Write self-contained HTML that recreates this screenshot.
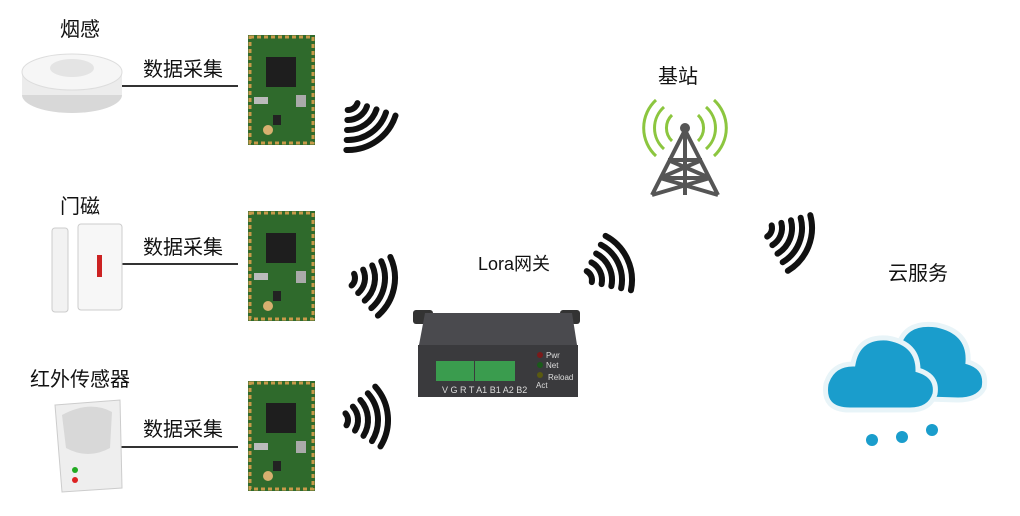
<!DOCTYPE html>
<html><head><meta charset="utf-8"><style>
body{margin:0;background:#fff;width:1020px;height:516px;overflow:hidden;font-family:"Liberation Sans","Noto Sans CJK SC",sans-serif}
svg{display:block}
text{font-family:"Liberation Sans","Noto Sans CJK SC",sans-serif;fill:#111}
</style></head><body>
<svg width="1020" height="516" viewBox="0 0 1020 516">
<defs>
<g id="wave" fill="none" stroke="#111" stroke-width="6" stroke-linecap="round">
<path d="M8,-6 A10 10 0 0 1 8,6"/>
<path d="M16,-12 A20 20 0 0 1 16,12"/>
<path d="M24,-18 A30 30 0 0 1 24,18"/>
<path d="M32,-24 A40 40 0 0 1 32,24"/>
<path d="M40,-30 A50 50 0 0 1 40,30"/>
</g>
<g id="pcb">
<rect x="0" y="0" width="67" height="110" fill="#2f6a2c"/>
<rect x="2" y="2" width="63" height="106" fill="none" stroke="#c89a4a" stroke-width="3" stroke-dasharray="4 3"/>
<rect x="18" y="22" width="30" height="30" fill="#1e1e1e"/>
<rect x="6" y="62" width="14" height="7" fill="#bbb"/>
<rect x="48" y="60" width="10" height="12" fill="#aaa"/>
<circle cx="20" cy="95" r="5" fill="#d8b070"/>
<rect x="25" y="80" width="8" height="10" fill="#222"/>
</g>
</defs>

<text x="60" y="36" font-size="20">烟感</text>
<text x="60" y="213" font-size="20">门磁</text>
<text x="30" y="386" font-size="20">红外传感器</text>
<text x="143" y="76" font-size="20">数据采集</text>
<text x="143" y="254" font-size="20">数据采集</text>
<text x="143" y="436" font-size="20">数据采集</text>
<text x="478" y="270" font-size="18">Lora网关</text>
<text x="658" y="83" font-size="20">基站</text>
<text x="888" y="280" font-size="20">云服务</text>

<line x1="110" y1="86" x2="238" y2="86" stroke="#333" stroke-width="2"/>
<line x1="120" y1="264" x2="238" y2="264" stroke="#333" stroke-width="2"/>
<line x1="120" y1="447" x2="238" y2="447" stroke="#333" stroke-width="2"/>

<ellipse cx="72" cy="95" rx="50" ry="18" fill="#d8d8d8"/>
<rect x="22" y="72" width="100" height="23" fill="#ececec"/>
<ellipse cx="72" cy="72" rx="50" ry="18" fill="#f6f6f6" stroke="#ddd"/>
<ellipse cx="72" cy="68" rx="22" ry="9" fill="#e4e4e4"/>

<rect x="52" y="228" width="16" height="84" rx="3" fill="#f2f2f2" stroke="#ccc"/>
<rect x="78" y="224" width="44" height="86" rx="3" fill="#f7f7f7" stroke="#ccc"/>
<rect x="97" y="255" width="5" height="22" fill="#cc2222"/>

<path d="M55,405 L120,400 L122,488 L62,492 Z" fill="#eee" stroke="#ccc"/>
<path d="M62,415 Q90,400 112,412 L110,448 Q88,460 66,448 Z" fill="#d8d8d8"/>
<circle cx="75" cy="470" r="3" fill="#2a2"/><circle cx="75" cy="480" r="3" fill="#d22"/>

<use href="#pcb" x="248" y="35"/>
<use href="#pcb" x="248" y="211"/>
<use href="#pcb" x="248" y="381"/>

<use href="#wave" transform="translate(348,100) rotate(55)"/>
<use href="#wave" transform="translate(345,278) rotate(12)"/>
<use href="#wave" transform="translate(338,420) rotate(-5)"/>
<use href="#wave" transform="translate(582,280) rotate(-25)"/>
<use href="#wave" transform="translate(762,228) rotate(22)"/>

<rect x="413" y="310" width="20" height="14" rx="3" fill="#333"/>
<rect x="560" y="310" width="20" height="14" rx="3" fill="#333"/>
<path d="M425,313 L572,313 L577,345 L419,345 Z" fill="#4a4a4e"/>
<rect x="418" y="345" width="160" height="52" fill="#3a3a3d"/>
<rect x="436" y="361" width="38" height="20" fill="#3a9c4e"/>
<rect x="475" y="361" width="40" height="20" fill="#3a9c4e"/>
<circle cx="540" cy="355" r="3" fill="#7a1a1a"/><circle cx="540" cy="365" r="3" fill="#1a5a1a"/><circle cx="540" cy="375" r="3" fill="#5a5a10"/>
<text x="546" y="358" font-size="8" style="fill:#ddd">Pwr</text>
<text x="546" y="368" font-size="8" style="fill:#ddd">Net</text>
<text x="536" y="388" font-size="8" style="fill:#ddd">Act</text>
<text x="548" y="380" font-size="8" style="fill:#ddd">Reload</text>
<text x="442" y="393" font-size="9" style="fill:#ddd">V G R T A1 B1 A2 B2</text>

<g stroke="#555" stroke-width="4" fill="none">
<path d="M685,130 L652,195 M685,130 L718,195 M668,160 L702,160 M660,178 L710,178 M668,160 L710,178 M702,160 L660,178 M660,178 L718,195 M710,178 L652,195 M685,130 L685,195"/>
</g>
<circle cx="685" cy="128" r="5" fill="#555"/>
<g fill="none" stroke="#8cc63f" stroke-width="3">
<path d="M672,115 A18 18 0 0 0 672,141"/><path d="M664,107 A28 28 0 0 0 664,149"/><path d="M656,100 A38 38 0 0 0 656,156"/>
<path d="M698,115 A18 18 0 0 1 698,141"/><path d="M706,107 A28 28 0 0 1 706,149"/><path d="M714,100 A38 38 0 0 1 714,156"/>
</g>

<g fill="#1a9dcc" stroke="#e8f4f8" stroke-width="5">
<path d="M895,398 Q866,398 868,375 Q872,352 897,352 Q902,320 937,325 Q970,332 968,362 Q988,368 984,388 Q978,400 958,400 Z"/>
<path d="M850,410 Q822,410 826,384 Q832,364 853,364 Q858,336 887,338 Q918,343 918,370 Q938,376 935,394 Q930,410 910,410 Z"/>
</g>
<circle cx="872" cy="440" r="6" fill="#1a9dcc"/><circle cx="902" cy="437" r="6" fill="#1a9dcc"/><circle cx="932" cy="430" r="6" fill="#1a9dcc"/>
</svg>
</body></html>
